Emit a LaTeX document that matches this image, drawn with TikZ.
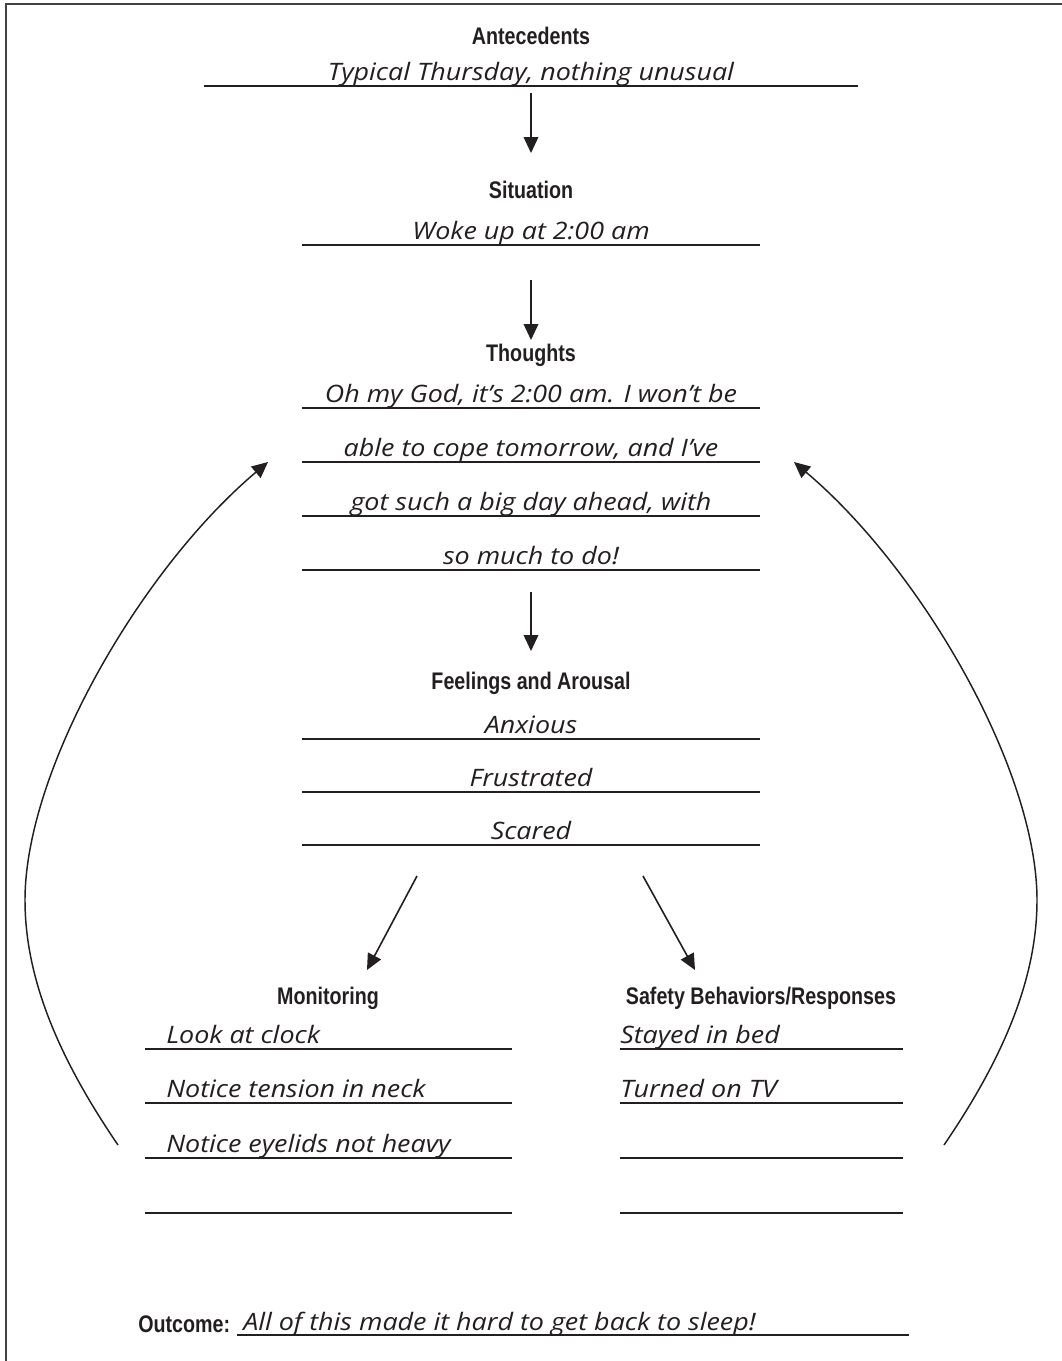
\documentclass[tikz,border=0pt]{standalone}
\usepackage{fontspec}
\usetikzlibrary{arrows.meta}
\newfontfamily\headfont[FakeStretch=0.82]{Liberation Sans}
\newfontfamily\handfont[FakeStretch=1.12]{Open Sans}
\definecolor{ink}{RGB}{35,31,32}
\begin{document}
\begin{tikzpicture}[x=0.75pt,y=-0.75pt,
  head/.style={font=\headfont\bfseries\fontsize{18}{21}\selectfont, text=ink, inner sep=0},
  hand/.style={font=\handfont\itshape\fontsize{18}{21}\selectfont, text=ink, inner sep=0, anchor=base},
  handl/.style={hand, anchor=base west},
  rule/.style={draw=ink, line width=1.6pt},
  thinrule/.style={draw=ink, line width=1.1pt},
  frame/.style={draw=ink!85, line width=1.8pt},
  flow/.style={draw=ink, line width=1.2pt, -{Triangle[length=12pt,width=11pt]}},
  loop/.style={draw=ink, line width=1.1pt, -{Triangle[length=12pt,width=11pt]}},
]
\useasboundingbox (0,0) rectangle (1062,1361);
% frame
\draw[frame] (6,1361) -- (6,4) -- (1062,4);

% Antecedents
\node[head] (anteHead) at (531,36) {Antecedents};
\node[hand] (anteText) at (531,80) {Typical Thursday, nothing unusual};
\draw[thinrule] (204,86) coordinate (anteL) -- (858,86) coordinate (anteR);
\coordinate (a1s) at (531,93); \coordinate (a1e) at (531,153);
\draw[flow] (a1s) -- (a1e);

% Situation
\node[head] (sitHead) at (531,190) {Situation};
\node[hand] (sitText) at (531,239) {Woke up at 2:00 am};
\draw[rule] (302,245) coordinate (sitL) -- (760,245) coordinate (sitR);
\coordinate (a2s) at (531,280); \coordinate (a2e) at (531,340);
\draw[flow] (a2s) -- (a2e);

% Thoughts
\node[head] (thHead) at (531,355) {Thoughts};
\node[hand] (th1) at (531,402) {Oh my God, it’s 2:00 am. I won’t be};
\node[hand] (th2) at (531,456) {able to cope tomorrow, and I’ve};
\node[hand] (th3) at (531,510) {got such a big day ahead, with};
\node[hand] (th4) at (531,564) {so much to do!};
\foreach \y/\n in {408/1,462/2,516/3,570/4}{
  \draw[rule] (302,\y) coordinate (thL\n) -- (760,\y) coordinate (thR\n);
}
\coordinate (a3s) at (531,592); \coordinate (a3e) at (531,651);
\draw[flow] (a3s) -- (a3e);

% Feelings
\node[head] (feHead) at (531,683) {Feelings and Arousal};
\node[hand] (fe1) at (531,733) {Anxious};
\node[hand] (fe2) at (531,786) {Frustrated};
\node[hand] (fe3) at (531,839) {Scared};
\foreach \y/\n in {739/1,792/2,845/3}{
  \draw[rule] (302,\y) coordinate (feL\n) -- (760,\y) coordinate (feR\n);
}
\coordinate (dls) at (417,876); \coordinate (dle) at (367,970);
\coordinate (drs) at (643,876); \coordinate (dre) at (695,970);
\draw[flow] (dls) -- (dle);
\draw[flow] (drs) -- (dre);

% Monitoring
\node[head] (moHead) at (328,998) {Monitoring};
\node[handl] (mo1) at (166,1043) {Look at clock};
\node[handl] (mo2) at (166,1097) {Notice tension in neck};
\node[handl] (mo3) at (166,1152) {Notice eyelids not heavy};
\foreach \y/\n in {1049/1,1103/2,1158/3,1213/4}{
  \draw[thinrule] (145,\y) coordinate (moL\n) -- (512,\y) coordinate (moR\n);
}

% Safety
\node[head] (saHead) at (761,998) {Safety Behaviors/Responses};
\node[handl] (sa1) at (620,1043) {Stayed in bed};
\node[handl] (sa2) at (620,1097) {Turned on TV};
\foreach \y/\n in {1049/1,1103/2,1158/3,1213/4}{
  \draw[thinrule] (620,\y) coordinate (saL\n) -- (903,\y) coordinate (saR\n);
}

% feedback loops
\coordinate (lls) at (118,1145); \coordinate (lle) at (268,462);
\coordinate (rls) at (944,1145); \coordinate (rle) at (794,462);
\draw[loop] (lls) .. controls (60,1060) and (25,980) .. (25,900)
  .. controls (25,770) and (140,570) .. (lle);
\draw[loop] (rls) .. controls (1002,1060) and (1037,980) .. (1037,900)
  .. controls (1037,770) and (922,570) .. (rle);

% Outcome
\node[head, anchor=base west] (ouHead) at (138,1332) {Outcome:};
\node[handl] (ouText) at (243,1330) {All of this made it hard to get back to sleep!};
\draw[thinrule] (237,1335) coordinate (ouL) -- (909,1335) coordinate (ouR);
\end{tikzpicture}
\end{document}
